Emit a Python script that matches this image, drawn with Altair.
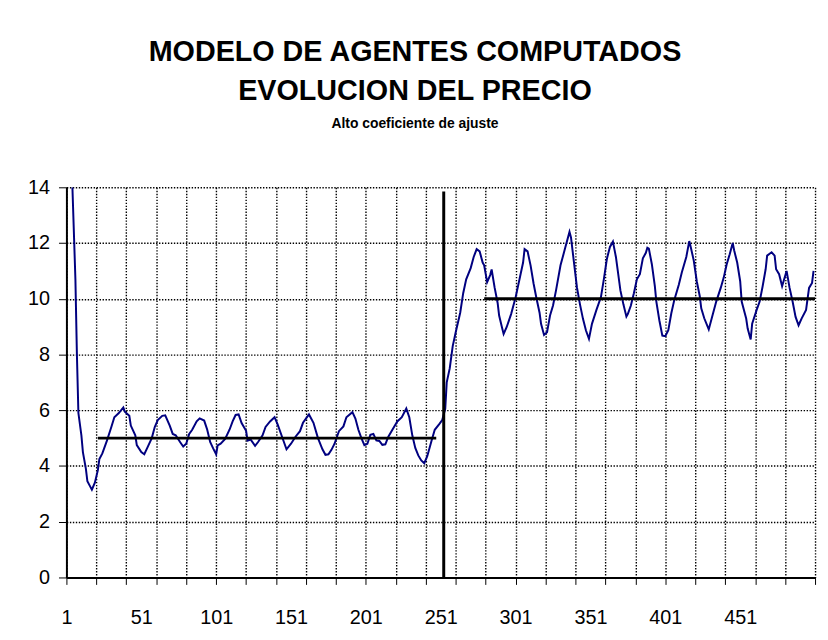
import altair as alt
import pandas as pd

# ---- price series (period, price) ----
t_a = [5, 7, 8, 9, 11, 12, 14, 15, 17, 18, 20, 22, 23, 25, 28, 31, 33, 36, 39, 40,
       43, 44, 47, 48, 51, 53, 55, 58, 60, 62, 65, 67, 70, 72, 74, 77, 79, 81, 83, 85, 88, 90]
p_a = [14.0, 10.7, 8.0, 5.9, 5.1, 4.5, 3.9, 3.45, 3.25, 3.15, 3.4, 3.85, 4.25, 4.45, 4.9, 5.4, 5.75, 5.9, 6.1, 5.95,
       5.8, 5.45, 5.1, 4.75, 4.5, 4.42, 4.65, 5.0, 5.4, 5.65, 5.8, 5.82, 5.45, 5.15, 5.1, 4.85, 4.7, 4.8, 5.15, 5.3, 5.6, 5.71]

t_b = [93, 95, 97, 99, 101, 102, 104, 107, 110, 112, 114, 116, 118, 121, 122, 124, 127, 129, 132, 134,
       137, 140, 142, 145, 148, 151, 154, 157, 159, 163, 166, 169, 172, 174]
p_b = [5.63, 5.31, 4.86, 4.63, 4.42, 4.74, 4.8, 4.97, 5.31, 5.6, 5.83, 5.85, 5.54, 5.26, 4.91, 4.95, 4.72, 4.86, 5.1, 5.4,
       5.6, 5.75, 5.5, 5.05, 4.6, 4.8, 5.05, 5.25, 5.55, 5.85, 5.55, 5.0, 4.6, 4.4]

t_c = [176, 178, 180, 183, 186, 188, 192, 194, 196, 198, 200, 202, 204, 206, 208, 210, 212, 214, 216, 219,
       222, 225, 228, 230, 232, 234, 236, 238, 240, 242, 245, 247, 250, 252, 254]
p_c = [4.42, 4.58, 4.79, 5.25, 5.42, 5.75, 5.93, 5.7, 5.3, 5.0, 4.75, 4.8, 5.12, 5.15, 4.92, 4.9, 4.76, 4.78, 5.05, 5.33,
       5.6, 5.75, 6.06, 5.75, 5.1, 4.65, 4.38, 4.2, 4.1, 4.35, 4.93, 5.3, 5.5, 5.65, 6.05]

t_d = [255, 257, 259, 261, 264, 266, 268, 271, 273, 275, 277, 279, 280, 282, 284, 285, 287, 289, 290, 292,
       293, 295, 298, 301, 304, 306, 307, 309, 311, 313, 315, 317, 318, 320]
p_d = [7.0, 7.5, 8.3, 8.8, 9.5, 10.2, 10.7, 11.1, 11.5, 11.78, 11.7, 11.3, 11.2, 10.6, 10.85, 11.05, 10.4, 9.85, 9.4, 8.95,
       8.74, 8.98, 9.45, 10.05, 10.8, 11.3, 11.78, 11.7, 11.2, 10.55, 10.0, 9.5, 9.1, 8.7]

t_e = [322, 324, 326, 328, 331, 334, 337, 338, 340, 342, 344, 346, 348, 350, 352, 355, 358, 360, 362, 364,
       366, 368, 371, 373, 375, 376, 378, 380, 382, 384, 386, 388, 389, 390, 392, 394, 395, 397, 399]
p_e = [8.8, 9.4, 9.76, 10.3, 11.2, 11.8, 12.4, 12.2, 11.3, 10.4, 9.8, 9.28, 8.86, 8.56, 9.1, 9.6, 10.06, 10.72, 11.44, 11.86,
       12.05, 11.5, 10.3, 9.8, 9.36, 9.46, 9.76, 10.2, 10.7, 10.88, 11.45, 11.65, 11.83, 11.8, 11.24, 10.45, 9.9, 9.23, 8.68]

t_f = [401, 403, 405, 407, 410, 412, 415, 417, 418, 420, 422, 424, 425, 427, 430, 432, 435, 438, 440, 442,
       444, 446, 447, 449, 451, 452, 455, 456, 458, 459, 462, 464, 466, 468, 469, 472, 474, 475, 477, 479,
       481, 482, 484, 486, 488, 490, 492, 495, 497, 499, 500]
p_f = [8.66, 8.87, 9.48, 9.96, 10.5, 10.94, 11.5, 12.07, 11.85, 11.37, 10.63, 10.09, 9.66, 9.3, 8.9, 9.3, 9.9, 10.39, 10.76, 11.24,
       11.6, 12.0, 11.73, 11.3, 10.63, 9.9, 9.29, 8.93, 8.54, 9.11, 9.6, 9.9, 10.45, 11.06, 11.55, 11.67, 11.55, 11.06, 10.88, 10.45,
       10.82, 11.0, 10.39, 9.9, 9.35, 9.05, 9.29, 9.6, 10.39, 10.57, 11.0]

# ---- reference levels and shock line ----
level_price = [5, 10]
level_start = [22, 280]
level_end = [248, 501]
shock_t = [253]
shock_low = [0]
shock_high = [13.85]

# ---- axis tick values ----
y_ticks = [0, 2, 4, 6, 8, 10, 12, 14]
x_grid = list(range(1, 502, 20))
x_labels = list(range(1, 452, 50))

t_all = t_a + t_b + t_c + t_d + t_e + t_f
p_all = p_a + p_b + p_c + p_d + p_e + p_f
assert len(t_all) == len(p_all)

price = pd.DataFrame({"t": t_all, "p": p_all})
levels = pd.DataFrame({"p": level_price, "t": level_start, "t2": level_end})
shock = pd.DataFrame({"t": shock_t, "p": shock_low, "p2": shock_high})

FONT = "Liberation Sans"
x_vals = sorted(set(x_grid + x_labels))
grid_test = "(datum.value - 1) % 20 === 0"

x_scale = alt.Scale(domain=[1, 501], nice=False, zero=False)
y_scale = alt.Scale(domain=[0, 14], nice=False, zero=True)

x_axis = alt.Axis(
    title=None,
    values=x_vals,
    format="d",
    labelExpr="indexof(" + str(x_labels) + ", datum.value) >= 0 ? datum.label : ''",
    labelOverlap=False,
    labelFlush=False,
    labelBound=False,
    labelFont=FONT,
    labelFontSize=20,
    labelColor="black",
    labelPadding=23,
    tickSize=7,
    tickColor="black",
    tickWidth=1,
    tickOpacity={"condition": {"test": grid_test, "value": 1}, "value": 0},
    grid=True,
    gridOpacity={"condition": {"test": grid_test, "value": 1}, "value": 0},
    gridColor="black",
    gridDash=[1.4, 1.6],
    gridWidth=1.4,
    domainColor="black",
    domainWidth=2,
)

y_axis = alt.Axis(
    title=None,
    values=y_ticks,
    labelFont=FONT,
    labelFontSize=20,
    labelColor="black",
    labelPadding=9,
    tickSize=8,
    tickColor="black",
    tickWidth=1,
    grid=True,
    gridColor="black",
    gridDash=[1.4, 1.6],
    gridWidth=1.4,
    domainColor="black",
    domainWidth=2,
)

line = alt.Chart(price).mark_line(color="#000080", strokeWidth=2, clip=True).encode(
    x=alt.X("t:Q", scale=x_scale, axis=x_axis),
    y=alt.Y("p:Q", scale=y_scale, axis=y_axis),
)

hlines = alt.Chart(levels).mark_rule(color="black", strokeWidth=3, clip=True).encode(
    x=alt.X("t:Q", scale=x_scale, axis=x_axis),
    x2="t2:Q",
    y=alt.Y("p:Q", scale=y_scale, axis=y_axis),
)

vline = alt.Chart(shock).mark_rule(color="black", strokeWidth=3).encode(
    x=alt.X("t:Q", scale=x_scale, axis=x_axis),
    y=alt.Y("p:Q", scale=y_scale, axis=y_axis),
    y2="p2:Q",
)

chart = alt.layer(line, hlines, vline).properties(
    width=756,
    height=394,
    autosize=alt.AutoSizeParams(type="none"),
    padding={"left": 59, "top": 178, "right": 5, "bottom": 52},
    background="white",
    title=alt.TitleParams(
        text=["MODELO DE AGENTES COMPUTADOS", "EVOLUCION DEL PRECIO"],
        subtitle="Alto coeficiente de ajuste",
        font=FONT,
        fontSize=29,
        fontWeight="bold",
        lineHeight=40,
        color="black",
        subtitleFont=FONT,
        subtitleFontSize=14,
        subtitleFontWeight="bold",
        subtitleColor="black",
        subtitlePadding=11,
        anchor="middle",
        dx=-26,
        offset=47,
    ),
).configure_view(stroke=None)

chart.save("out.html", embed_options={"renderer": "svg", "actions": False})
